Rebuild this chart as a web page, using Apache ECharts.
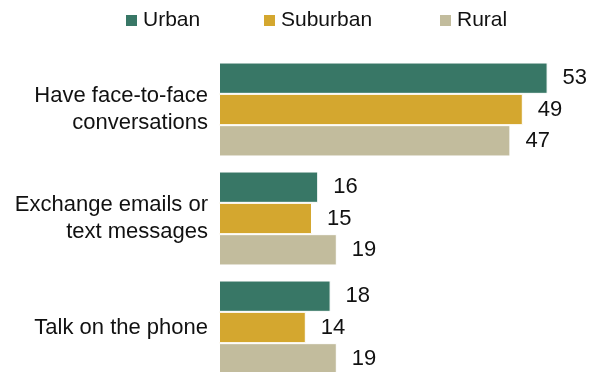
<!DOCTYPE html>
<html lang="en">
<head>
    <meta charset="UTF-8"/>
    <title>Conversations by community type</title>
    <script src="https://cdn.jsdelivr.net/npm/echarts@6/dist/echarts.min.js"></script>
</head>
<body style="margin:0">

<div id="main" style="width: 600px;height:372px;"></div>

<script type="text/javascript">
    var categories = ['Have face-to-face\nconversations', 'Exchange emails or\ntext messages', 'Talk on the phone'];
    var seriesNames = ['Urban', 'Suburban', 'Rural'];
    var urban = [53, 16, 18];
    var suburban = [49, 15, 14];
    var rural = [47, 19, 19];

    var myChart = echarts.init(document.getElementById('main'));

    var font = 'Liberation Sans, Arial, sans-serif';
    var colors = ['#387766', '#d4a72f', '#c2bc9d'];
    var legendLeft = [124, 262, 438];

    function bar(name, data, color) {
        return {
            name: name,
            type: 'bar',
            data: data,
            barGap: 0,
            barCategoryGap: '13.8%',
            itemStyle: { color: color, borderColor: '#ffffff', borderWidth: 1 },
            label: {
                show: true,
                position: 'right',
                distance: 15,
                color: '#111',
                fontSize: 22,
                fontFamily: font
            }
        };
    }

    // one legend per item so each swatch sits where the reference puts it
    var legends = seriesNames.map(function (n, i) {
        return {
            top: 10,
            left: legendLeft[i],
            padding: 0,
            itemWidth: 13,
            itemHeight: 13,
            icon: 'rect',
            textStyle: { fontSize: 21, color: '#111', fontFamily: font },
            data: [n]
        };
    });

    var option = {
        animation: false,
        color: colors,
        legend: legends,
        // last group runs off the bottom edge, as in the reference
        grid: { left: 219, right: 9, top: 55, height: 327, outerBoundsMode: 'none' },
        xAxis: {
            type: 'value',
            min: 0,
            max: 60,
            show: false
        },
        yAxis: {
            type: 'category',
            inverse: true,
            data: categories,
            axisLine: { show: false },
            axisTick: { show: false },
            axisLabel: {
                margin: 11,
                fontSize: 22,
                lineHeight: 27,
                color: '#111',
                fontFamily: font,
                align: 'right'
            }
        },
        series: [
            bar('Urban', urban, colors[0]),
            bar('Suburban', suburban, colors[1]),
            bar('Rural', rural, colors[2])
        ]
    };

    myChart.setOption(option);
</script>
</body>
</html>
